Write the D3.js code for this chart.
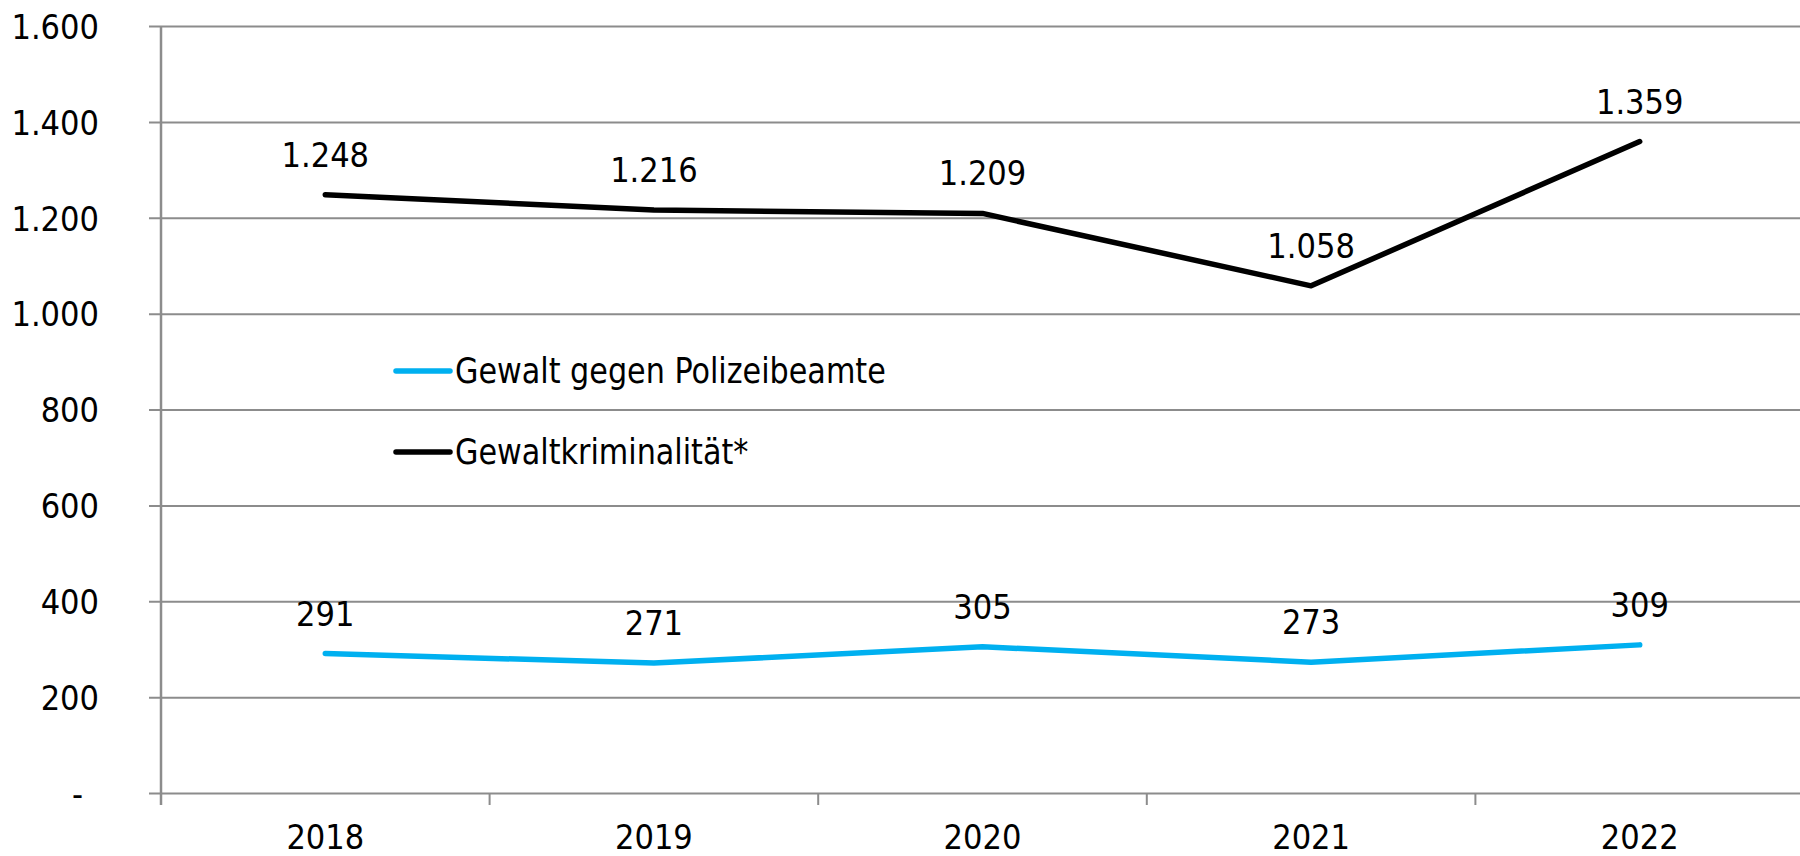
<!DOCTYPE html>
<head>
    <meta charset="utf-8">
    <title>Gewalt gegen Polizeibeamte</title>
    <style>
        body { margin: 0; background: #fff; }
        svg text { font-family: "Liberation Sans Narrow", "Arial Narrow", "DejaVu Sans Condensed", sans-serif; fill: #000; }
    </style>
</head>
<body>

<script src="https://d3js.org/d3.v7.min.js"></script>

<script>

    var years = ['2018', '2019', '2020', '2021', '2022'];
    var polizei = [291, 271, 305, 273, 309];
    var gewalt = [1248, 1216, 1209, 1058, 1359];
    var yTicks = [0, 200, 400, 600, 800, 1000, 1200, 1400, 1600];
    var seriesNames = ['Gewalt gegen Polizeibeamte', 'Gewaltkriminalität*'];
    var seriesColors = ['#00b0f0', '#000000'];

    var margin = {top: 26, right: -4, bottom: 63, left: 161},
        width = 1800 - margin.left - margin.right,
        height = 856 - margin.top - margin.bottom;

    var de = d3.formatLocale({decimal: ',', thousands: '.', grouping: [3], currency: ['', ' €']});
    var fmt = de.format(',');
    var tickFmt = function(d) { return d === 0 ? '-' : fmt(d); };

    var x = d3.scaleBand()
        .domain(years)
        .range([0, width]);

    var y = d3.scaleLinear()
        .domain([0, 1600])
        .range([height, 0]);

    var svg = d3.select('body').append('svg')
        .attr('width', 1800)
        .attr('height', 856)
        .append('g')
        .attr('transform', 'translate(' + margin.left + ',' + margin.top + ')');

    // gridlines + y labels
    var yAxis = d3.axisLeft(y)
        .tickValues(yTicks)
        .tickSize(-(width + 12))
        .tickPadding(50)
        .tickFormat(tickFmt);

    var gy = svg.append('g')
        .attr('class', 'y axis')
        .attr('transform', 'translate(-12,0)')
        .call(yAxis);
    gy.select('.domain').remove();
    gy.selectAll('line').attr('stroke', '#8c8c8c').attr('stroke-width', 2);
    gy.selectAll('text')
        .attr('font-size', '34px')
        .attr('dy', '0.36em')
        .attr('dx', function(d) { return d === 0 ? -16 : 0; });

    // x axis with ticks between categories
    var xAxis = d3.axisBottom(x)
        .tickSize(0)
        .tickPadding(0);

    var gx = svg.append('g')
        .attr('class', 'x axis')
        .attr('transform', 'translate(0,' + height + ')')
        .call(xAxis);
    gx.select('.domain').remove();
    gx.selectAll('text')
        .attr('font-size', '34px')
        .attr('y', 56)
        .attr('dy', 0);

    gx.selectAll('.sep')
        .data(years)
        .enter().append('line')
        .attr('x1', function(d) { return x(d); })
        .attr('x2', function(d) { return x(d); })
        .attr('y1', 0)
        .attr('y2', 12)
        .attr('stroke', '#8c8c8c')
        .attr('stroke-width', 2);

    svg.append('line')
        .attr('x1', 0).attr('x2', 0)
        .attr('y1', 0).attr('y2', height + 12)
        .attr('stroke', '#8c8c8c')
        .attr('stroke-width', 2.5);

    var line = d3.line()
        .x(function(d, i) { return x(years[i]) + x.bandwidth() / 2; })
        .y(function(d) { return y(d); });

    [polizei, gewalt].forEach(function(vals, k) {
        svg.append('path')
            .datum(vals)
            .attr('d', line)
            .attr('fill', 'none')
            .attr('stroke', seriesColors[k])
            .attr('stroke-width', 5.5)
            .attr('stroke-linecap', 'round')
            .attr('stroke-linejoin', 'round');

        svg.selectAll('.lbl' + k)
            .data(vals)
            .enter().append('text')
            .attr('class', 'lbl' + k)
            .attr('x', function(d, i) { return x(years[i]) + x.bandwidth() / 2; })
            .attr('y', function(d) { return y(d) - 28; })
            .attr('text-anchor', 'middle')
            .attr('font-size', '34px')
            .text(fmt);
    });

    // legend
    var legend = svg.append('g')
        .attr('transform', 'translate(235,345)');

    seriesNames.forEach(function(name, i) {
        var row = legend.append('g')
            .attr('transform', 'translate(0,' + (i * 81) + ')');
        row.append('line')
            .attr('x1', 0).attr('x2', 54)
            .attr('stroke', seriesColors[i])
            .attr('stroke-width', 5.5)
            .attr('stroke-linecap', 'round');
        row.append('text')
            .attr('transform', 'translate(59,12) scale(0.96,1)')
            .attr('font-size', '35px')
            .text(name);
    });

</script>

</body>
